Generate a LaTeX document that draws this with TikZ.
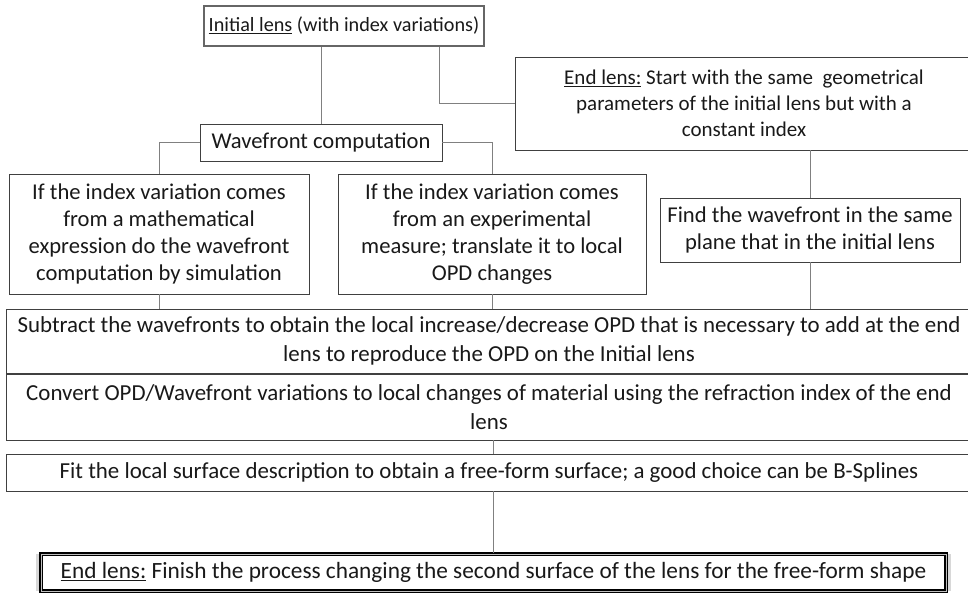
\documentclass[tikz,border=0pt]{standalone}
\usepackage{fontspec}
\setmainfont{Carlito}
\usepackage{xcolor}
\definecolor{edgecolor}{gray}{0.25}
\definecolor{linkcolor}{gray}{0.5}
\usetikzlibrary{shadows}

\begin{document}
\begin{tikzpicture}[x=1pt, y=-1pt,
    every node/.style={font=\fontsize{22.6}{27}\selectfont, text=black!90, align=center, inner sep=0pt},
    box/.style={draw=edgecolor, line width=0.9pt, fill=white, minimum width=#1},
    small/.style={font=\fontsize{20.2}{25.5}\selectfont},
    wide/.style={box=966pt, font=\fontsize{22.9}{29}\selectfont},
    mainbox/.style={draw=black, line width=1.6pt, double=gray!50, double distance=0.8pt, fill=white,
      font=\fontsize{23.3}{29}\selectfont,
      drop shadow={opacity=0.3, shadow xshift=0pt, shadow yshift=0pt, shadow scale=1.01}},
    link/.style={draw=linkcolor, line width=0.7pt}]
  \clip (0,0) rectangle (968,594);
  \fill[white] (0,0) rectangle (968,594);
  % top of the tree
  \node[box=280pt, small, minimum height=40pt, line width=1.6pt, draw=edgecolor!80,
        drop shadow={opacity=0.25, shadow xshift=1pt, shadow yshift=-1pt}] (init) at (344,26)
    {\underline{Initial lens} (with index variations)};
  \node[box=458pt, font=\fontsize{21}{26}\selectfont, minimum height=93pt] (endA) at (744,103.5)
    {\underline{End lens:} Start with the same\ \ geometrical\\parameters of the initial lens but with a\\constant index};
  \node[box=242pt, minimum height=37pt] (wave) at (321,142.5) {Wavefront computation};
  % the three branches
  \node[box=300pt, minimum height=120pt] (simA) at (159,234)
    {If the index variation comes\\from a mathematical\\expression do the wavefront\\computation by simulation};
  \node[box=308pt, minimum height=120pt] (expA) at (492,234)
    {If the index variation comes\\from an experimental\\measure; translate it to local\\OPD changes};
  \node[box=300pt, minimum height=64pt] (findA) at (810,230)
    {Find the wavefront in the same\\plane that in the initial lens};
  % steps across the full width
  \node[wide, minimum height=64pt] (sub) at (489,341)
    {Subtract the wavefronts to obtain the local increase/decrease OPD that is necessary to add at the end\\lens to reproduce the OPD on the Initial lens};
  \node[wide, minimum height=66pt] (conv) at (489,407)
    {Convert OPD/Wavefront variations to local changes of material using the refraction index of the end\\lens};
  \node[wide, minimum height=37pt] (fit) at (489,472.5)
    {Fit the local surface description to obtain a free-form surface; a good choice can be B-Splines};
  \node[mainbox, minimum width=905pt, minimum height=37pt] (endB) at (493.5,572.5)
    {\underline{End lens:} Finish the process changing the second surface of the lens for the free-form shape};
  % connectors
  \draw[link] (init.south -| wave.north) -- (wave.north);
  \draw[link] ([xshift=95pt]init.south) |- (endA.west);
  \draw[link] (wave.west) -| (simA.north);
  \draw[link] (wave.east) -| (expA.north);
  \draw[link] (simA.south) -- (simA.south |- sub.north);
  \draw[link] (expA.south) -- (expA.south |- sub.north);
  \draw[link] (endA.south -| findA.north) -- (findA.north);
  \draw[link] (findA.south) -- (findA.south |- sub.north);
  \draw[link] (conv.south -| endB.north) -- (fit.north -| endB.north);
  \draw[link] (fit.south -| endB.north) -- (endB.north);
\end{tikzpicture}
\end{document}
